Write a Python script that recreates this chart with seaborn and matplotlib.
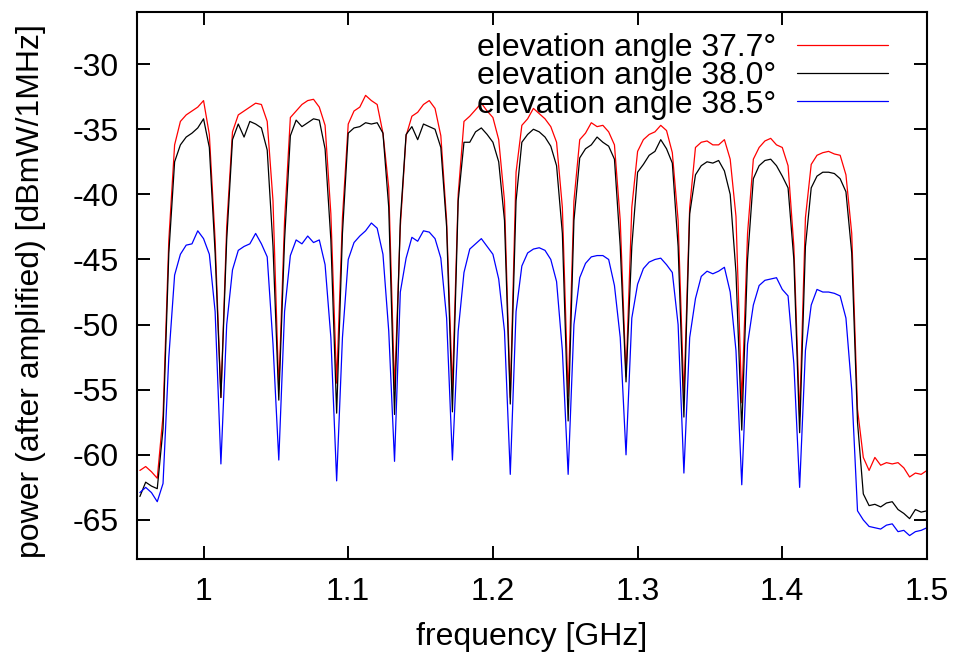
import numpy as np
import pandas as pd
import matplotlib
matplotlib.use("Agg")
import matplotlib.pyplot as plt
import seaborn as sns

# frequency grid of the spectrum trace, 4 MHz steps [GHz]
freq_ghz = np.round(0.956 + 0.004 * np.arange(137), 3)

# power after amplifier [dBmW/1MHz]
power_37_7 = [
    -61.2, -60.9, -61.3, -61.8, -57.0,
    -43.5, -36.2, -34.4, -33.9, -33.6, -33.3, -32.8, -35.4, -43.5, -55.6,
    -42.5, -35.2, -33.9, -33.6, -33.3, -33.0, -33.1, -34.4, -40.5, -55.0,
    -42.0, -34.1, -33.6, -33.1, -32.8, -32.7, -33.3, -34.7, -41.5, -54.5,
    -41.8, -34.6, -33.6, -33.3, -32.4, -32.8, -33.1, -35.3, -39.5, -55.0,
    -42.5, -35.5, -34.0, -33.7, -33.1, -32.8, -33.4, -35.5, -42.0, -55.0,
    -40.0, -34.4, -34.0, -33.5, -33.0, -33.6, -34.1, -35.8, -40.5, -55.6,
    -38.3, -34.7, -34.2, -33.4, -33.8, -34.2, -34.8, -36.0, -41.0, -55.5,
    -40.5, -35.8, -35.3, -34.5, -34.8, -34.7, -35.2, -36.2, -42.0, -54.0,
    -41.0, -36.7, -35.8, -35.4, -35.2, -34.7, -35.1, -36.8, -42.0, -55.6,
    -41.0, -36.4, -36.0, -35.9, -36.2, -36.2, -35.8, -37.3, -41.7, -56.0,
    -43.0, -37.3, -36.4, -35.9, -35.7, -36.2, -36.4, -37.8, -44.0, -57.1,
    -41.8, -37.7, -37.0, -36.8, -36.7, -36.9, -37.0, -38.5, -43.0, -56.5,
    -60.2, -61.2, -60.2, -60.8, -60.6, -60.7, -60.6, -61.0, -61.7, -61.4,
    -61.5, -61.2,
]
power_38_0 = [
    -63.2, -62.1, -62.4, -62.6, -58.0,
    -44.5, -37.5, -36.2, -35.6, -35.3, -34.9, -34.2, -36.4, -44.5, -55.6,
    -43.5, -35.8, -34.6, -35.6, -34.4, -34.6, -34.9, -36.6, -44.0, -55.8,
    -43.5, -35.5, -34.3, -34.8, -34.5, -34.2, -34.3, -36.5, -43.5, -56.8,
    -43.0, -35.3, -34.9, -34.8, -34.5, -34.6, -34.5, -35.3, -41.0, -56.9,
    -42.0, -35.4, -34.8, -35.8, -34.6, -34.8, -35.0, -36.4, -42.5, -56.7,
    -40.5, -36.0, -36.0, -35.2, -34.9, -35.4, -36.0, -37.5, -42.0, -56.1,
    -40.5, -36.0, -35.4, -35.0, -35.2, -35.6, -36.3, -37.8, -43.0, -57.4,
    -42.0, -37.2, -36.5, -36.2, -35.6, -36.0, -36.3, -37.3, -44.0, -54.4,
    -44.0, -38.3, -37.7, -37.0, -36.7, -35.8, -36.5, -37.6, -44.0, -57.1,
    -41.5, -38.5, -37.8, -37.5, -37.6, -37.4, -38.2, -40.0, -46.0, -58.1,
    -45.0, -38.8, -37.8, -37.4, -37.3, -37.8, -38.6, -39.5, -45.0, -58.3,
    -44.0, -39.5, -38.6, -38.3, -38.3, -38.4, -38.8, -39.8, -44.5, -57.5,
    -63.0, -63.9, -63.8, -64.0, -63.7, -63.6, -64.2, -64.5, -64.9, -64.2,
    -64.4, -64.3,
]
power_38_5 = [
    -62.9, -62.5, -62.9, -63.6, -62.2,
    -52.5, -46.2, -44.6, -43.9, -43.8, -42.8, -43.4, -44.6, -49.0, -60.7,
    -50.0, -45.8, -44.3, -44.0, -43.8, -43.0, -43.8, -44.8, -51.5, -60.4,
    -49.0, -44.7, -43.5, -43.8, -43.2, -43.7, -43.5, -45.4, -51.0, -62.0,
    -51.0, -45.0, -43.7, -43.2, -42.8, -42.2, -42.6, -44.6, -50.5, -60.5,
    -47.5, -44.9, -43.3, -43.6, -42.8, -42.9, -43.4, -44.9, -49.5, -60.4,
    -50.5, -46.0, -44.2, -43.8, -43.4, -44.0, -44.6, -46.5, -50.5, -61.5,
    -49.0, -45.5, -44.5, -44.2, -44.1, -44.3, -45.0, -46.7, -52.0, -61.5,
    -50.0, -46.4, -45.3, -44.8, -44.7, -44.7, -45.0, -47.0, -51.0, -60.0,
    -49.5, -46.9, -45.7, -45.2, -45.0, -44.9, -45.4, -46.0, -50.0, -61.4,
    -51.0, -48.0, -46.3, -45.9, -46.1, -45.9, -45.6, -47.5, -52.0, -62.3,
    -51.5, -48.5, -47.0, -46.6, -46.5, -46.4, -47.3, -47.8, -53.0, -62.5,
    -52.0, -48.5, -47.3, -47.5, -47.5, -47.6, -47.8, -49.5, -55.0, -64.3,
    -65.0, -65.5, -65.6, -65.7, -65.4, -65.3, -65.9, -65.8, -66.2, -65.9,
    -65.8, -65.6,
]

series_labels = ["elevation angle 37.7°", "elevation angle 38.0°", "elevation angle 38.5°"]
series_colors = ["#ff0000", "#000000", "#0000ff"]

x_ticks = [1.0, 1.1, 1.2, 1.3, 1.4, 1.5]
x_tick_labels = ["1", "1.1", "1.2", "1.3", "1.4", "1.5"]
y_ticks = [-30, -35, -40, -45, -50, -55, -60, -65]

df = pd.concat([
    pd.DataFrame({"freq": freq_ghz, "power": p, "series": lab})
    for p, lab in zip([power_37_7, power_38_0, power_38_5], series_labels)
], ignore_index=True)

sns.set_theme(style="ticks")
plt.rcParams["font.family"] = ["Liberation Sans", "DejaVu Sans"]
plt.rcParams["axes.unicode_minus"] = False
plt.rcParams["text.color"] = "black"
plt.rcParams["axes.labelcolor"] = "black"

fig = plt.figure(figsize=(9.58, 6.61), dpi=100)
ax = fig.add_axes([0.143, 0.1543, 0.8246, 0.8275])

sns.lineplot(data=df, x="freq", y="power", hue="series", hue_order=series_labels,
             palette=series_colors, linewidth=0.9, estimator=None, sort=False, ax=ax)

ax.set_xlim(0.954, 1.5)
ax.set_ylim(-68, -26)
ax.set_xticks(x_ticks)
ax.set_xticklabels(x_tick_labels)
ax.set_yticks(y_ticks)
ax.set_yticklabels([str(v) for v in y_ticks])
ax.tick_params(direction="in", length=9.5, width=1.4, top=True, right=True,
               labelsize=23, pad=13, colors="black", labelcolor="black")
for sp in ax.spines.values():
    sp.set_linewidth(1.5)
    sp.set_color("black")

ax.set_xlabel("frequency [GHz]", fontsize=23, labelpad=11, color="black")
ax.set_ylabel("power (after amplified) [dBmW/1MHz]", fontsize=23, color="black")
ax.yaxis.set_label_coords(-0.115, 0.49)

handles, labels = ax.get_legend_handles_labels()
ax.legend(handles, labels, loc="upper right", bbox_to_anchor=(0.9506, 0.962),
          frameon=False, markerfirst=False, fontsize=23, handlelength=2.85,
          handletextpad=0.65, labelspacing=-0.05, borderpad=0, borderaxespad=0)

fig.savefig("out.png", dpi=100)
